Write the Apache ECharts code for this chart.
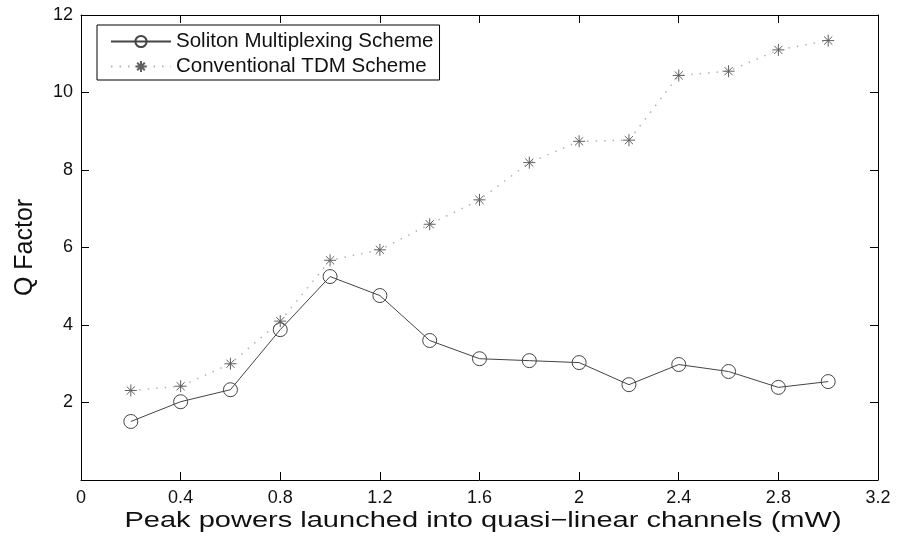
<!DOCTYPE html>
<html>
<head>
<meta charset="utf-8">
<script src="https://cdn.jsdelivr.net/npm/echarts@6/dist/echarts.min.js"></script>
<style>
  html, body { margin: 0; padding: 0; background: #fff; }
  #chart { width: 899px; height: 540px; }
</style>
</head>
<body>
<div id="chart"></div>
<script>
// Launched peak power per channel (mW)
const peakPower = [0.2, 0.4, 0.6, 0.8, 1.0, 1.2, 1.4, 1.6, 1.8, 2.0, 2.2, 2.4, 2.6, 2.8, 3.0];
// Q factor, soliton multiplexing scheme
const qSoliton = [1.51, 2.02, 2.33, 3.88, 5.25, 4.76, 3.6, 3.13, 3.08, 3.03, 2.46, 2.98, 2.8, 2.39, 2.54];
// Q factor, conventional TDM scheme
const qTdm = [2.31, 2.42, 3.0, 4.1, 5.67, 5.94, 6.6, 7.23, 8.19, 8.74, 8.77, 10.44, 10.55, 11.1, 11.34];

const seriesNames = ['Soliton Multiplexing Scheme', 'Conventional TDM Scheme'];
const xTitle = 'Peak powers launched into quasi\u2212linear channels (mW)';
const yTitle = 'Q Factor';

const FONT = '"Liberation Sans", Arial, Helvetica, sans-serif';
const asterisk = 'path://M0,5L10,5M5,0L5,10M1.6,1.6L8.4,8.4M8.4,1.6L1.6,8.4';

const pairs = (xs, ys) => xs.map((x, i) => [x, ys[i]]);

const boxAxis = (extra) => Object.assign({
  type: 'value',
  axisLine: { show: true, onZero: false, lineStyle: { color: '#000', width: 1 } },
  axisTick: { show: true, inside: true, length: 8, lineStyle: { color: '#000', width: 1 } },
  splitLine: { show: false }
}, extra);

const chart = echarts.init(document.getElementById('chart'), null, { renderer: 'canvas' });

chart.setOption({
  backgroundColor: '#fff',
  animation: false,
  grid: { left: 81, right: 21, top: 15, bottom: 60, containLabel: false },
  legend: {
    orient: 'vertical',
    left: 97,
    top: 25,
    padding: [6, 6, 3, 13],
    itemGap: 4,
    itemWidth: 60,
    itemHeight: 14,
    backgroundColor: '#fff',
    borderColor: '#000',
    borderWidth: 1,
    borderRadius: 0,
    textStyle: { fontFamily: FONT, fontSize: 20.5, color: '#111', lineHeight: 20 },
    data: seriesNames
  },
  xAxis: [
    boxAxis({
      position: 'bottom', min: 0, max: 3.2, interval: 0.4,
      axisLabel: {
        margin: 9, color: '#111', fontFamily: FONT, fontSize: 18,
        formatter: v => String(+v.toFixed(1))
      }
    }),
    boxAxis({ position: 'top', min: 0, max: 3.2, interval: 0.4, axisLabel: { show: false } })
  ],
  yAxis: [
    boxAxis({
      position: 'left', min: 0, max: 12, interval: 2,
      name: yTitle, nameLocation: 'middle', nameGap: 43,
      nameTextStyle: { fontFamily: FONT, fontSize: 25, color: '#111' },
      axisLabel: {
        margin: 8, color: '#111', fontFamily: FONT, fontSize: 18,
        formatter: v => (v === 0 ? '' : String(v))
      }
    }),
    boxAxis({ position: 'right', min: 0, max: 12, interval: 2, axisLabel: { show: false } })
  ],
  graphic: [{
    type: 'text',
    x: 483, y: 521,
    scaleX: 1.29,
    style: {
      text: xTitle,
      font: '22.5px ' + FONT,
      fill: '#111',
      align: 'center',
      verticalAlign: 'middle'
    }
  }],
  series: [
    {
      name: seriesNames[0],
      type: 'line',
      data: pairs(peakPower, qSoliton),
      symbol: 'circle',
      symbolSize: 14,
      showAllSymbol: true,
      lineStyle: { color: '#444', width: 1, type: 'solid' },
      itemStyle: { color: 'rgba(0,0,0,0)', borderColor: '#444', borderWidth: 1 },
      z: 3
    },
    {
      name: seriesNames[1],
      type: 'line',
      data: pairs(peakPower, qTdm),
      symbol: asterisk,
      symbolSize: 12,
      showAllSymbol: true,
      lineStyle: { color: '#b4b4b4', width: 1.5, type: [1.5, 7] },
      itemStyle: { color: '#606060', borderColor: '#606060', borderWidth: 1 },
      z: 2
    }
  ]
});
</script>
</body>
</html>
